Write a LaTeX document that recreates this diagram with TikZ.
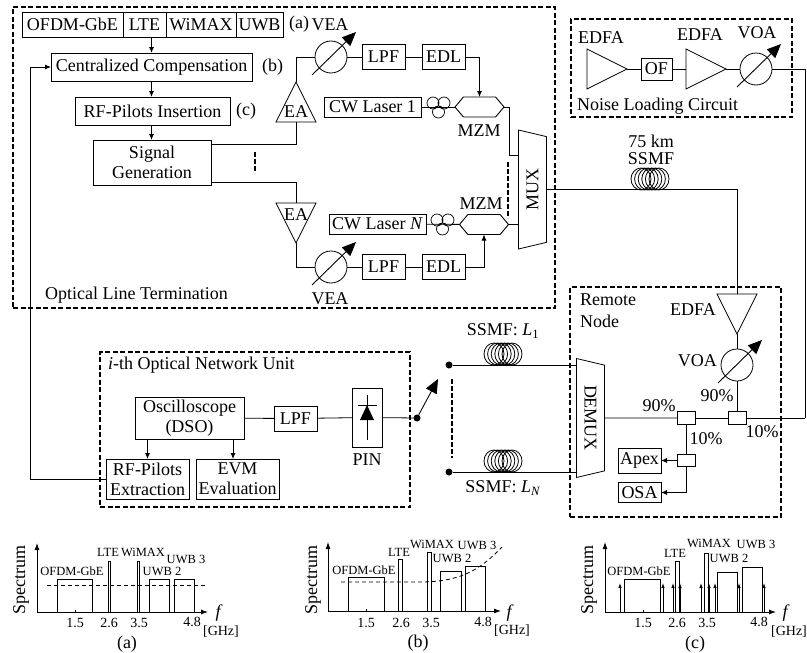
\documentclass[tikz,border=0pt]{standalone}
\usepackage{fontspec}
\setmainfont{Liberation Serif}
\usepackage{tikz}
\usetikzlibrary{shapes.geometric, shapes.symbols, arrows.meta, positioning, fit, backgrounds, calc}
\newcommand{\mainsize}{\fontsize{18}{20}\selectfont}
\newcommand{\ticksize}{\fontsize{14}{15}\selectfont}
\newcommand{\bandsize}{\fontsize{12.5}{13}\selectfont}

\begin{document}
\begin{tikzpicture}[
  x=1pt, y=-1pt,
  box/.style={rectangle, draw, line width=0.9pt, inner sep=0pt, outer sep=0pt, align=center, font=\mainsize},
  amp/.style={isosceles triangle, isosceles triangle stretches, draw, line width=0.8pt, minimum width=40pt, minimum height=40pt, inner sep=0pt, outer sep=0pt},
  vea/.style={circle, draw, line width=0.8pt, minimum size=32pt, inner sep=0pt, outer sep=0pt},
  mzm/.style={signal, signal to=east and west, signal pointer angle=100, draw, line width=0.9pt, minimum width=49pt, minimum height=20pt, inner sep=0pt, outer sep=0pt},
  muxbox/.style={trapezium, trapezium stretches body, trapezium left angle=61, trapezium right angle=61, draw, line width=0.8pt, minimum width=119pt, minimum height=28pt, inner sep=0pt, outer sep=0pt, font=\mainsize},
  cpl/.style={rectangle, draw, line width=0.9pt, minimum width=18pt, minimum height=12.5pt, inner sep=0pt, outer sep=0pt},
  dot/.style={circle, fill, minimum size=7pt, inner sep=0pt, outer sep=0pt},
  wire/.style={line width=0.8pt},
  arrow/.style={-{Latex[length=6pt,width=5pt]}, line width=0.8pt},
  tune/.style={-{Stealth[length=14pt,width=12pt,inset=0pt]}, line width=0.9pt},
  skip/.style={line width=1.4pt, dash pattern=on 5pt off 2pt},
  group/.style={draw, line width=1.3pt, dash pattern=on 5pt off 2.5pt, inner sep=0pt},
  note/.style={inner sep=0pt, font=\mainsize, align=center},
  ticklab/.style={inner sep=0pt, font=\ticksize},
  bandlab/.style={inner sep=0pt, font=\bandsize},
  band/.style={line width=0.9pt},
  axis/.style={-{Latex[length=7pt,width=5pt]}, line width=0.9pt},
  pilot/.style={-{Latex[length=5pt,width=3.5pt]}, line width=0.8pt},
  level/.style={line width=0.8pt, dash pattern=on 4pt off 3pt},
  coil/.pic={\foreach \dx in {-9,-5.4,-1.8,1.8,5.4,9} \draw[line width=0.8pt] (\dx,0) ellipse (10 and 11);},
  pc/.pic={\draw[line width=0.7pt] (-5.5,-4) circle (6) (5.5,-4) circle (6) (0,5) circle (6);},
  node distance=0pt and 17pt
]
\useasboundingbox (0,0) rectangle (807,653);

% Optical line termination: baseband part
\node[box, minimum width=101pt, minimum height=25pt] (ofdm) at (72.5,24.5) {OFDM-GbE};
\node[box, minimum width=43pt, minimum height=25pt, right=0pt of ofdm] (lte) {LTE};
\node[box, minimum width=70pt, minimum height=25pt, right=0pt of lte] (wimax) {WiMAX};
\node[box, minimum width=47pt, minimum height=25pt, right=0pt of wimax] (uwb) {UWB};
\node[note, right=6pt of uwb] (laba) {(a)};
\node[box, minimum width=201pt, minimum height=28pt] (cent) at (151.5,67) {Centralized Compensation};
\node[note, right=10pt of cent] (labb) {(b)};
\node[box, minimum width=155pt, minimum height=28pt] (ins) at (152.5,111) {RF-Pilots Insertion};
\node[note, right=6pt of ins] (labc) {(c)};
\node[box, minimum width=118pt, minimum height=45pt] (sig) at (152,162.5) {Signal\\Generation};

% Upper branch
\node[amp, shape border rotate=90, anchor=apex] (ea1) at (296,82) {};
\node[note] (ea1lab) at (296,112) {EA};
\node[vea] (vea1) at (331,57) {};
\node[note] (vea1lab) at (330,25) {VEA};
\node[box, minimum width=43pt, minimum height=25pt, right=15pt of vea1] (lpf1) {LPF};
\node[box, minimum width=43pt, minimum height=25pt, right=17pt of lpf1] (edl1) {EDL};
\node[box, minimum width=97pt, minimum height=20pt] (laser1) at (372.5,107) {CW Laser 1};
\pic at (438.5,107) {pc};
\node[mzm] (mzm1) at (479.5,107) {};
\node[note] (mzm1lab) at (479,131) {MZM};

% Lower branch
\node[amp, shape border rotate=-90, anchor=apex] (ea2) at (296,243) {};
\node[note] (ea2lab) at (296,215) {EA};
\node[vea] (vea2) at (331,267) {};
\node[note] (vea2lab) at (330,299) {VEA};
\node[box, minimum width=43pt, minimum height=25pt, right=15pt of vea2] (lpf2) {LPF};
\node[box, minimum width=43pt, minimum height=25pt, right=17pt of lpf2] (edl2) {EDL};
\node[box, minimum width=97pt, minimum height=20pt] (laser2) at (377.5,224) {CW Laser \textit{N}};
\pic at (442.5,224) {pc};
\node[mzm] (mzm2) at (484,224.5) {};
\node[note] (mzm2lab) at (481,204) {MZM};

% Multiplexer and transmission fibre
\node[muxbox, shape border rotate=180, rotate=90] (mux) at (532.5,189.5) {MUX};
\coordinate (muxin1) at (518,155);
\coordinate (muxin2) at (518,225);
\pic at (650,179) {coil};
\node[note] (kmlab) at (651,150) {75 km\\[-3pt]SSMF};
\node[note, anchor=west] (oltlab) at (45,295) {Optical Line Termination};

% Noise loading circuit
\node[amp, anchor=apex] (nedfa1) at (627,69) {};
\node[note] (nedfa1lab) at (601,38) {EDFA};
\node[box, minimum width=31pt, minimum height=22pt] (of) at (656.5,69) {OF};
\node[amp, anchor=apex] (nedfa2) at (726,69) {};
\node[note] (nedfa2lab) at (700,35) {EDFA};
\node[vea] (nvoa) at (756,69) {};
\node[note] (nvoalab) at (757,33) {VOA};
\node[note, anchor=west] (noiselab) at (577,106) {Noise Loading Circuit};

% Remote node
\node[amp, shape border rotate=-90, anchor=apex] (redfa) at (737,334) {};
\node[note, anchor=east] (redfalab) at (716,310) {EDFA};
\node[vea] (rvoa) at (737,365) {};
\node[note, anchor=east] (rvoalab) at (717,361) {VOA};
\node[cpl] (cpl1) at (737,418) {};
\node[cpl] (cpl2) at (686,418) {};
\node[cpl] (cpl3) at (686,460.5) {};
\node[box, minimum width=43pt, minimum height=25pt] (apex) at (639.5,460.5) {Apex};
\node[box, minimum width=43pt, minimum height=20pt] (osa) at (639.5,492.5) {OSA};
\node[muxbox, rotate=-90] (demux) at (590.5,418) {DEMUX};
\coordinate (turn) at (805,418);
\node[note, anchor=west] (rnlab) at (580,300) {Remote};
\node[note, anchor=west] (rnlabb) at (580,321) {Node};
\node[note] (pcta) at (717,396) {90\%};
\node[note] (pctb) at (659,406) {90\%};
\node[note] (pctc) at (706,439) {10\%};
\node[note] (pctd) at (762,432) {10\%};

% i-th optical network unit
\node[box, minimum width=30pt, minimum height=59pt] (pin) at (367,417.5) {};
\node[note] (pinlab) at (367,460) {PIN};
\node[box, minimum width=43pt, minimum height=25pt] (lpf3) at (295.5,418.5) {LPF};
\node[box, minimum width=109pt, minimum height=42pt] (dso) at (189.5,418) {Oscilloscope\\(DSO)};
\node[box, minimum width=83pt, minimum height=40pt] (rfx) at (147.5,479) {RF-Pilots\\Extraction};
\node[box, minimum width=83pt, minimum height=40pt] (evm) at (237.5,479) {EVM\\Evaluation};
\node[note, anchor=west] (onulab) at (108,365) {\textit{i}-th Optical Network Unit};
\coordinate (fbturn) at (30,479);

% Switch and branch fibres
\node[dot] (sw) at (417,418) {};
\node[dot] (sw1) at (449,365) {};
\node[dot] (sw2) at (449,472) {};
\coordinate (swtip) at (438,379);
\pic at (503,354) {coil};
\pic at (503,461) {coil};
\node[note] (l1lab) at (503,331) {SSMF: \textit{L}\textsubscript{1}};
\node[note] (lnlab) at (503,488) {SSMF: \textit{L}\textsubscript{\textit{N}}};

% Arrows
\draw[arrow] (cent.north |- lte.south) -- (cent.north);
\draw[arrow] (cent.south) -- (cent.south |- ins.north);
\draw[arrow] (cent.south |- ins.south) -- (cent.south |- sig.north);
\draw[wire] ([yshift=18.5pt]sig.east) -| (ea1.lower side);
\draw[wire] ([yshift=-19.5pt]sig.east) -| (ea2.lower side);
\draw[wire] (ea1.apex) |- (vea1);
\draw[wire] (ea2.apex) |- (vea2);
\draw[wire] (vea1) -- (lpf1);
\draw[wire] (lpf1) -- (edl1);
\draw[wire] (vea2) -- (lpf2);
\draw[wire] (lpf2) -- (edl2);
\draw[arrow] (edl1.east) -| (mzm1.north);
\draw[arrow] (edl2.east) -| (mzm2.south);
\draw[wire] (laser1) -- (mzm1);
\draw[wire] (laser2) -- (mzm2);
\draw[wire] (mzm1.east) -- ++(5,0) |- (muxin1);
\draw[wire] (mzm2.east) -- (mzm2.east -| muxin2);
\draw[wire] (mux.south) -| (redfa.lower side);
\draw[wire] (nedfa1.apex) -- (of);
\draw[wire] (of) -- (nedfa2.lower side);
\draw[wire] (nedfa2.apex) -- (nvoa);
\draw[wire] (nvoa) -| (turn);
\draw[wire] (turn) -- (cpl1);
\draw[wire] (redfa.apex) -- (rvoa);
\draw[wire] (rvoa) -- (cpl1);
\draw[wire] (cpl1) -- (cpl2);
\draw[wire] (cpl2) -- (demux.north);
\draw[wire] (cpl2) -- (cpl3);
\draw[arrow] (cpl3) -- (apex);
\draw[arrow] (cpl3.south) |- (osa);
\draw[wire] (sw1) -- (sw1 -| demux.south);
\draw[wire] (sw2) -- (sw2 -| demux.south);
\draw[wire] (pin) -- (sw);
\draw[wire] (lpf3) -- (pin);
\draw[wire] (dso) -- (lpf3);
\draw[arrow] (dso.south -| rfx) -- (rfx.north);
\draw[arrow] (dso.south -| evm.north) ++(-4.5,0) -- ++(0,20);
\draw[arrow] (rfx.west) -- (fbturn) |- (cent.west);
\draw[tune] (sw) -- (swtip);

% Attenuator arrows
\foreach \att in {vea1,vea2,nvoa,rvoa}
  \draw[tune] ($(\att)+(-19,18)$) -- ($(\att)+(25,-25)$);

% Parallel branch marks
\draw[skip] (255,152) -- (255,173);
\draw[skip] (508,162) -- (508,218);
\draw[skip] ($(sw1)+(3,14)$) -- ($(sw2)+(3,-14)$);

% Photodiode symbol
\draw[wire] (367,395) -- (367,440);
\draw[wire] (358,405) -- (377,405);
\fill (367,405) -- (374,420) -- (360,420) -- cycle;

% Spectrum (a)
\draw[axis] (37,612) -- (37,543);
\draw[axis] (37,612) -- (208,612);
\draw[wire] (75,612) -- (75,610);
\foreach \xa/\xb/\ytop in {57/92/579,108/110/561,137/139/561,149/169/579,174/194/579}
  \draw[band] (\xa,612) |- (\xb,\ytop) -- (\xb,612);
\draw[level] (47,585) -- (207,585);
\node[note, rotate=90] (speca) at (21,580) {Spectrum};
\node[bandlab] (ofdma) at (72,571) {OFDM-GbE};
\node[bandlab] (ltea) at (108,552) {LTE};
\node[bandlab] (wimaxa) at (143,552) {WiMAX};
\node[bandlab] (uwbta) at (186,559) {UWB 3};
\node[bandlab] (uwbba) at (162,571) {UWB 2};
\node[ticklab] (ta1) at (75,623) {1.5};
\node[ticklab] (ta2) at (109,623) {2.6};
\node[ticklab] (ta3) at (139,623) {3.5};
\node[ticklab] (ta4) at (192,622) {4.8};
\node[note, font=\mainsize\itshape] (fa) at (218,613) {f};
\node[ticklab] (gha) at (221,632) {[GHz]};
\node[note] (capa) at (127,644) {(a)};

% Spectrum (b)
\draw[axis] (328,611) -- (328,542);
\draw[axis] (328,611) -- (501,611);
\draw[wire] (366,611) -- (366,609);
\foreach \xa/\xb/\ytop in {348/384/577,398/402/559,427/431/552,440/461/571,465/485/566}
  \draw[band] (\xa,611) |- (\xb,\ytop) -- (\xb,611);
\draw[level] (341,582) -- (420,582) .. controls (460,582) and (480,570) .. (502,547);
\node[note, rotate=90] (specb) at (313,580) {Spectrum};
\node[bandlab] (ofdmb) at (364,570) {OFDM-GbE};
\node[bandlab] (lteb) at (399,552) {LTE};
\node[bandlab] (wimaxb) at (432,544) {WiMAX};
\node[bandlab] (uwbtb) at (477,545) {UWB 3};
\node[bandlab] (uwbbb) at (452,558) {UWB 2};
\node[ticklab] (tb1) at (366,623) {1.5};
\node[ticklab] (tb2) at (401,623) {2.6};
\node[ticklab] (tb3) at (431,623) {3.5};
\node[ticklab] (tb4) at (483,622) {4.8};
\node[note, font=\mainsize\itshape] (fb) at (509,613) {f};
\node[ticklab] (ghb) at (512,631) {[GHz]};
\node[note] (capb) at (418,643) {(b)};

% Spectrum (c)
\draw[axis] (605,612) -- (605,542);
\draw[axis] (605,612) -- (776,612);
\draw[wire] (643,612) -- (643,610);
\foreach \xa/\xb/\ytop in {624/660/579,675/679/561,704/708/553,717/737/572,742/762/567}
  \draw[band] (\xa,612) |- (\xb,\ytop) -- (\xb,612);
\foreach \xp in {620,663,673,680,701,709,715,739,764}
  \draw[pilot] (\xp,612) -- (\xp,583);
\node[note, rotate=90] (specc) at (589,580) {Spectrum};
\node[bandlab] (ofdmc) at (639,571) {OFDM-GbE};
\node[bandlab] (ltec) at (675,553) {LTE};
\node[bandlab] (wimaxc) at (709,543) {WiMAX};
\node[bandlab] (uwbtc) at (756,544) {UWB 3};
\node[bandlab] (uwbbc) at (729,558) {UWB 2};
\node[ticklab] (tc1) at (643,623) {1.5};
\node[ticklab] (tc2) at (677,623) {2.6};
\node[ticklab] (tc3) at (707,623) {3.5};
\node[ticklab] (tc4) at (759,622) {4.8};
\node[note, font=\mainsize\itshape] (fc) at (785,613) {f};
\node[ticklab] (ghc) at (789,632) {[GHz]};
\node[note] (capc) at (695,644) {(c)};

% Dashed groups
\begin{scope}[on background layer]
  \node[group, fit={(13,7)(555,308)}] (olt) {};
  \node[group, fit={(571,19)(792,117)}] (noise) {};
  \node[group, fit={(570,287)(781,517)}] (remote) {};
  \node[group, fit={(100,352)(410,507)}] (onu) {};
\end{scope}
\end{tikzpicture}
\end{document}
